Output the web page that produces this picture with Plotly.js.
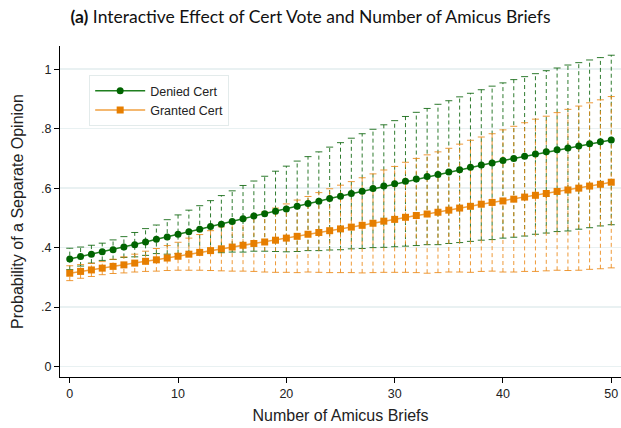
<!DOCTYPE html>
<html>
<head>
<meta charset="utf-8">
<script src="https://cdn.plot.ly/plotly-3.0.1.min.js"></script>
<style>html,body{margin:0;padding:0;background:#fff;}#chart{width:621px;height:428px;}</style>
</head>
<body>
<div id="chart"></div>
<script>
// Number of amicus briefs
const briefs = [0,1,2,3,4,5,6,7,8,9,10,11,12,13,14,15,16,17,18,19,20,21,22,23,24,25,26,27,28,29,30,31,32,33,34,35,36,37,38,39,40,41,42,43,44,45,46,47,48,49,50];

// Denied Cert: predicted probability and CI
const deniedP = [.362,.370,.378,.386,.393,.402,.410,.419,.428,.436,.445,.453,.462,.471,.479,.488,.497,.506,.514,.522,.530,.539,.548,.556,.565,.573,.582,.590,.599,.607,.615,.623,.631,.639,.646,.654,.662,.670,.678,.685,.693,.700,.707,.715,.722,.729,.735,.742,.749,.756,.762];
const deniedHi = [.398,.402,.408,.415,.426,.437,.451,.464,.476,.494,.510,.526,.541,.558,.575,.591,.609,.624,.640,.657,.674,.691,.706,.722,.738,.753,.768,.783,.798,.813,.827,.841,.855,.868,.882,.894,.907,.919,.931,.943,.954,.965,.975,.985,.995,1.004,1.014,1.022,1.031,1.039,1.047];
const deniedLo = [.326,.338,.348,.357,.360,.367,.369,.374,.380,.378,.380,.380,.383,.384,.383,.385,.385,.388,.388,.387,.386,.387,.390,.390,.392,.393,.396,.397,.400,.401,.403,.405,.407,.410,.410,.414,.417,.421,.425,.427,.432,.435,.439,.445,.449,.454,.456,.462,.467,.473,.477];

// Granted Cert: predicted probability and CI
const grantedP = [.314,.320,.325,.331,.337,.342,.348,.354,.359,.365,.371,.378,.384,.390,.396,.402,.408,.414,.419,.425,.432,.438,.445,.451,.457,.463,.469,.475,.482,.489,.495,.502,.508,.513,.519,.526,.533,.539,.546,.552,.557,.563,.570,.576,.582,.589,.594,.600,.607,.613,.620];
const grantedHi = [.339,.343,.347,.353,.361,.369,.378,.388,.397,.407,.418,.432,.444,.457,.470,.483,.495,.508,.520,.533,.547,.560,.572,.585,.598,.610,.622,.635,.648,.661,.673,.687,.700,.712,.722,.734,.748,.761,.772,.783,.796,.808,.820,.832,.842,.854,.865,.876,.887,.897,.908];
const grantedLo = [.289,.297,.303,.309,.313,.315,.318,.320,.321,.323,.324,.324,.324,.323,.322,.321,.321,.320,.318,.317,.317,.316,.318,.317,.316,.316,.316,.315,.316,.317,.317,.317,.316,.314,.316,.318,.318,.317,.320,.321,.318,.318,.320,.320,.322,.324,.323,.324,.327,.329,.332];

const seriesNames = ['Denied Cert', 'Granted Cert'];
const yTickVals = [0, .2, .4, .6, .8, 1];
const yTickText = ['0', '.2', '.4', '.6', '.8', '1'];
const xTickVals = [0, 10, 20, 30, 40, 50];

const GREEN = '#006400', GREEN_LINE = '#1f7f1f', GREEN_CI = 'rgba(10,100,10,0.85)';
const ORANGE = '#e67e00', ORANGE_LINE = '#f0a040', ORANGE_CI = 'rgba(235,135,20,0.85)';

function stems(xs, lo, hi) {
  const x = [], y = [];
  xs.forEach((v, i) => { x.push(v, v, null); y.push(lo[i], hi[i], null); });
  return {x, y};
}
function caps(xs, lo, hi) {
  return {x: xs.concat(xs), y: lo.concat(hi)};
}

const dS = stems(briefs, deniedLo, deniedHi), gS = stems(briefs, grantedLo, grantedHi);
const dC = caps(briefs, deniedLo, deniedHi), gC = caps(briefs, grantedLo, grantedHi);

const traces = [
  {x: dS.x, y: dS.y, mode: 'lines', line: {color: GREEN_CI, width: 1, dash: '4px,3px'}, showlegend: false, hoverinfo: 'skip', connectgaps: false},
  {x: dC.x, y: dC.y, mode: 'markers', marker: {symbol: 'line-ew', size: 5, line: {color: GREEN_CI, width: 1}}, showlegend: false, hoverinfo: 'skip'},
  {x: gS.x, y: gS.y, mode: 'lines', line: {color: ORANGE_CI, width: 1, dash: '4px,3px'}, showlegend: false, hoverinfo: 'skip', connectgaps: false},
  {x: gC.x, y: gC.y, mode: 'markers', marker: {symbol: 'line-ew', size: 5, line: {color: ORANGE_CI, width: 1}}, showlegend: false, hoverinfo: 'skip'},
  {x: briefs, y: deniedP, name: seriesNames[0], mode: 'lines+markers', line: {color: GREEN_LINE, width: 1.5}, marker: {symbol: 'circle', size: 7, color: GREEN}},
  {x: briefs, y: grantedP, name: seriesNames[1], mode: 'lines+markers', line: {color: ORANGE_LINE, width: 1.5}, marker: {symbol: 'square', size: 7, color: ORANGE}}
];

const layout = {
  width: 621, height: 428,
  margin: {l: 60, r: 0, t: 46, b: 51},
  paper_bgcolor: '#ffffff', plot_bgcolor: '#ffffff',
  font: {family: 'Liberation Sans, Arial, sans-serif', size: 12, color: '#222'},
  title: {
    text: '<b>(a)</b> Interactive Effect of Cert Vote and Number of Amicus Briefs',
    font: {family: 'Lato, Open Sans, sans-serif', size: 17.5, color: '#111'},
    x: 0.5, xref: 'container', xanchor: 'center',
    y: 1 - 17/428, yref: 'container', yanchor: 'middle'
  },
  xaxis: {
    range: [-0.9, 50.9],
    tickvals: xTickVals,
    ticks: 'outside', ticklen: 5, tickcolor: '#000', tickwidth: 1,
    showline: true, linecolor: '#000', linewidth: 1,
    showgrid: false, zeroline: false,
    tickfont: {size: 12.5, color: '#222'},
    title: {text: 'Number of Amicus Briefs', font: {size: 16, color: '#222'}, standoff: 9}
  },
  yaxis: {
    range: [-0.035, 1.078],
    tickvals: yTickVals, ticktext: yTickText,
    ticks: 'outside', ticklen: 5, tickcolor: '#000', tickwidth: 1,
    showline: true, linecolor: '#000', linewidth: 1,
    showgrid: true, gridcolor: '#e9f1f2', gridwidth: 1.5,
    zeroline: false,
    tickfont: {size: 12.5, color: '#222'},
    title: {text: 'Probability of a Separate Opinion', font: {size: 16, color: '#222'}, standoff: 13}
  },
  legend: {
    x: 0.052, y: 0.912, xanchor: 'left', yanchor: 'top',
    bgcolor: '#ffffff', bordercolor: '#e3ebeb', borderwidth: 1,
    font: {size: 12.5, color: '#222'},
    itemwidth: 50, tracegroupgap: 0
  },
  showlegend: true
};

Plotly.newPlot('chart', traces, layout, {staticPlot: true, displayModeBar: false});
</script>
</body>
</html>
